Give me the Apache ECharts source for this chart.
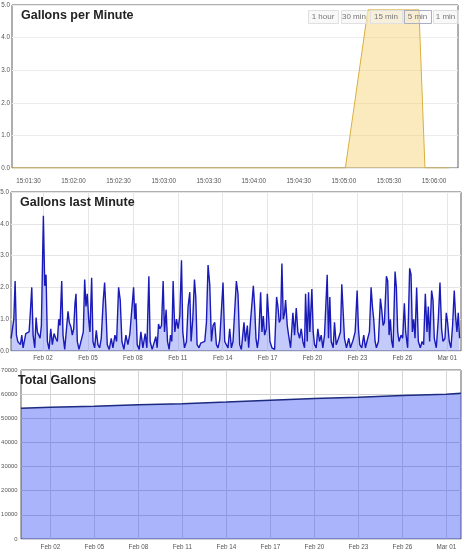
<!DOCTYPE html>
<html><head><meta charset="utf-8">
<script src="https://cdn.jsdelivr.net/npm/echarts@6/dist/echarts.min.js"></script>
<style>html,body{margin:0;padding:0;background:#fff}#c{width:470px;height:555px}</style>
</head><body><div id="c"></div>
<script>
// ---------- Panel 1: Gallons per Minute (1 March 2015, clock times) ----------
const gpmTimes  = ['15:01:19','15:02:00','15:03:00','15:04:00','15:05:01','15:05:16','15:05:50','15:05:54','15:06:10'];
const gpmValues = [0, 0, 0, 0, 0, 4.85, 4.85, 0, 0];
const gpmRange  = ['15:01:19','15:06:16'];
const gpmTickLabels = ['15:01:30','15:02:00','15:02:30','15:03:00','15:03:30','15:04:00','15:04:30','15:05:00','15:05:30','15:06:00'];
const rangeButtons = ['1 hour','30 min','15 min','5 min','1 min'];
const selectedButton = '5 min';

// ---------- Panel 2: Gallons last Minute  ([hours since 2015-01-30 00:00, gallons]) ----------
const lastMinuteReadings = [
[20.8,0.4],[23.5,0.35],[25.1,1.0],[27.2,2.2],[29.3,0.5],[31.5,0.3],[33.6,0.35],[35.7,0.2],[37.9,0.5],[40.0,0.1],
[42.1,0.05],[44.3,0.55],[46.9,0.55],[49.6,0.6],[51.7,1.25],[53.9,2.0],[56.0,0.5],[58.7,0.1],[60.8,1.05],[62.9,0.6],
[65.1,0.5],[67.2,0.4],[69.3,0.8],[72.5,4.25],[74.7,2.05],[76.8,2.4],[78.9,0.3],[81.6,0.05],[84.3,0.7],[86.9,0.2],
[89.6,0.55],[92.3,0.4],[94.9,0.3],[97.1,1.0],[99.2,0.8],[101.9,2.2],[104.0,0.5],[106.7,0.05],[109.3,0.1],[112.0,1.25],
[114.1,0.9],[116.8,0.75],[118.9,0.5],[121.1,0.7],[123.2,1.5],[124.8,1.8],[126.9,0.3],[129.6,0.05],[132.3,0.1],[136.5,0.6],
[138.7,2.25],[140.8,1.4],[142.9,1.8],[145.1,1.0],[147.2,0.6],[149.9,2.3],[152.0,0.3],[154.7,0.1],[157.3,0.65],[160.0,0.2],
[162.7,0.1],[165.3,0.4],[168.5,1.6],[170.7,2.15],[172.8,1.3],[174.9,0.2],[178.1,0.05],[181.3,0.4],[184.0,0.1],[187.2,0.5],
[189.9,0.3],[193.1,2.0],[195.7,1.6],[198.4,0.3],[201.6,0.05],[204.8,0.5],[208.0,0.2],[211.2,0.55],[214.4,0.6],[217.1,2.0],
[219.2,1.0],[220.8,1.5],[222.9,0.2],[226.1,0.05],[228.8,0.6],[232.0,0.1],[235.7,0.55],[238.4,0.1],[241.6,2.35],[243.7,0.3],
[246.9,0.05],[250.1,0.1],[252.8,0.45],[254.9,0.1],[257.1,0.85],[259.2,0.7],[261.9,0.8],[264.5,2.2],[266.7,0.6],[269.3,1.3],
[271.5,0.3],[274.1,0.05],[276.3,0.5],[278.4,0.3],[280.5,2.2],[283.2,0.6],[285.9,1.0],[288.5,0.7],[291.2,1.1],[293.9,2.85],
[296.0,0.6],[298.7,0.1],[301.9,0.3],[304.5,1.4],[307.2,1.85],[309.3,0.3],[312.0,1.0],[314.7,2.25],[316.8,1.7],[318.9,0.2],
[322.1,0.1],[324.8,0.25],[328.0,0.2],[331.2,0.3],[333.9,0.9],[336.5,2.7],[339.2,2.1],[341.9,0.3],[344.5,0.8],[347.2,0.9],
[349.9,0.2],[352.5,0.1],[355.2,0.35],[357.9,0.3],[360.5,2.15],[363.2,0.3],[365.9,0.25],[368.5,0.1],[371.2,0.7],[373.9,0.1],
[376.5,0.3],[379.2,0.3],[381.9,2.2],[384.5,1.8],[387.2,0.2],[389.9,0.05],[394.1,0.9],[396.3,0.3],[399.5,0.8],[401.6,0.1],
[404.8,1.0],[406.9,1.5],[409.1,2.05],[411.2,1.4],[413.3,0.4],[415.5,0.1],[417.6,0.4],[420.8,1.85],[422.9,0.6],[425.1,1.1],
[427.2,0.5],[429.9,0.7],[431.5,1.8],[433.6,1.1],[435.7,0.3],[438.9,0.1],[443.2,0.05],[446.4,1.7],[448.5,1.4],[450.7,0.9],
[452.8,1.0],[454.9,2.75],[457.1,1.0],[459.2,1.2],[460.8,1.6],[463.5,0.8],[465.6,0.5],[468.8,0.1],[472.5,1.2],[475.2,0.5],
[477.9,1.35],[480.5,0.6],[483.2,0.4],[485.9,0.7],[488.5,0.3],[491.2,0.1],[492.8,1.8],[495.5,0.3],[497.6,1.85],[499.7,0.6],
[502.9,1.95],[505.1,0.6],[507.2,0.2],[509.9,0.1],[512.5,0.7],[515.2,0.3],[517.9,0.5],[520.5,0.1],[523.2,0.5],[527.5,2.4],
[529.6,0.4],[531.7,1.7],[533.9,0.3],[537.1,0.1],[539.2,0.9],[541.9,0.2],[545.6,0.4],[548.8,0.6],[550.9,2.1],[553.1,2.15],
[555.2,0.4],[558.4,0.1],[562.1,0.4],[564.8,0.1],[569.1,0.35],[572.3,0.6],[575.5,1.9],[577.6,0.7],[579.7,0.2],[582.9,0.1],
[586.1,0.5],[588.8,0.1],[592.5,0.4],[595.2,0.6],[597.9,2.0],[600.0,1.4],[602.1,1.0],[604.3,0.3],[606.4,0.1],[609.6,0.3],
[612.8,1.65],[614.9,1.3],[617.1,0.8],[619.2,0.9],[622.4,2.35],[624.5,2.2],[626.7,0.5],[628.8,1.0],[630.9,0.3],[633.1,0.1],
[636.3,2.5],[638.4,2.0],[640.5,0.6],[642.7,0.3],[645.9,0.5],[648.5,0.4],[651.2,1.5],[653.3,0.6],[656.5,0.1],[659.7,2.6],
[661.9,2.4],[664.0,0.6],[666.1,1.0],[668.3,0.4],[670.9,2.0],[673.6,0.3],[676.8,0.1],[679.5,0.3],[682.1,0.2],[684.8,1.8],
[687.5,0.6],[689.6,1.4],[691.7,0.3],[694.9,1.9],[697.1,1.6],[699.2,0.4],[702.4,0.1],[705.6,1.0],[708.3,2.15],[710.9,0.7],
[713.1,0.3],[716.3,0.4],[718.4,1.2],[720.5,0.9],[723.2,0.3],[725.9,0.1],[728.5,0.8],[731.2,1.9],[733.3,1.1],[735.5,0.6],
[737.6,1.2],[739.7,0.4]
];
const lastMinuteRangeHours = [20.6, 742];
const dateTickLabels = ['2015-02-02','2015-02-05','2015-02-08','2015-02-11','2015-02-14','2015-02-17','2015-02-20','2015-02-23','2015-02-26','2015-03-01'];

// ---------- Panel 3: Total Gallons ----------
const totalDates  = ['2015-01-31','2015-02-02','2015-02-05','2015-02-08','2015-02-11','2015-02-14','2015-02-17','2015-02-20','2015-02-23','2015-02-26','2015-03-01','2015-03-02'];
const totalValues = [54170, 54580, 55000, 55560, 55970, 56700, 57500, 58190, 58750, 59440, 60000, 60420];
const totalRange  = ['2015-01-31','2015-03-02'];

// ---------- helpers ----------
const FONT = '"Liberation Sans", Arial, Helvetica, sans-serif';
const MON = ['Jan','Feb','Mar','Apr','May','Jun','Jul','Aug','Sep','Oct','Nov','Dec'];
const pad = n => String(n).padStart(2,'0');
const day = s => { const [y,m,d] = s.split('-').map(Number); return new Date(y,m-1,d).getTime(); };
const clock = s => { const [h,m,x] = s.split(':').map(Number); return new Date(2015,2,1,h,m,x).getTime(); };
const base2 = new Date(2015,0,30).getTime();
const HOUR = 3600e3;
const fmtDate = v => { const x = new Date(v); return MON[x.getMonth()] + ' ' + pad(x.getDate()); };
const fmtClock = v => { const x = new Date(v); return pad(x.getHours())+':'+pad(x.getMinutes())+':'+pad(x.getSeconds()); };

const lbl = (extra) => Object.assign({fontSize:6.3, color:'#555', fontFamily:FONT}, extra);
const titleStyle = {fontSize:12.5, fontWeight:'bold', color:'#222', fontFamily:FONT};

const dateTicks = dateTickLabels.map(day);
const clockTicks = gpmTickLabels.map(clock);

// range buttons (UI decoration)
const btnX = [308, 341, 370, 404, 433], btnW = [30, 26, 32, 27, 25];
const buttons = [];
rangeButtons.forEach((b, i) => {
  const sel = b === selectedButton;
  buttons.push({type:'rect', left:btnX[i], top:10, shape:{width:btnW[i], height:13},
    style:{fill: sel ? 'rgba(240,240,245,0.35)' : 'rgba(242,242,242,0.55)', stroke: sel ? '#aab0c0' : '#e0e0e0', lineWidth:1}, z:100});
  buttons.push({type:'text', x:btnX[i] + btnW[i]/2, y:16.5, style:{text:b, fill:'#777', font:'8px ' + FONT, align:'center', verticalAlign:'middle'}, z:101});
});

const gridCommon = {show:true, borderColor:'#5e5e5e', borderWidth:1, containLabel:false, outerBoundsMode:'none'};

const chart = echarts.init(document.getElementById('c'));
chart.setOption({
  animation:false,
  backgroundColor:'#fff',
  title:[
    {text:'Gallons per Minute', left:21, top:9, padding:0, textStyle:titleStyle, z:50},
    {text:'Gallons last Minute', left:20, top:196, padding:0, textStyle:titleStyle, z:50},
    {text:'Total Gallons', left:18, top:374, padding:0, textStyle:titleStyle, z:50}
  ],
  graphic: buttons,
  grid:[
    Object.assign({left:12, top:5, width:446, height:163}, gridCommon),
    Object.assign({left:11, top:192, width:450, height:159}, gridCommon),
    Object.assign({left:21, top:370, width:440, height:169}, gridCommon)
  ],
  xAxis:[
    {type:'value', gridIndex:0, min:clock(gpmRange[0]), max:clock(gpmRange[1]),
     axisLine:{show:false}, axisTick:{show:false, customValues:clockTicks}, splitLine:{show:false},
     axisLabel:lbl({customValues:clockTicks, formatter:fmtClock, margin:10})},
    {type:'value', gridIndex:1, min:base2 + lastMinuteRangeHours[0]*HOUR, max:base2 + lastMinuteRangeHours[1]*HOUR,
     axisLine:{show:false}, axisTick:{show:false, customValues:dateTicks}, splitLine:{show:true, lineStyle:{color:'#e6e6e6'}},
     axisLabel:lbl({customValues:dateTicks, formatter:fmtDate, margin:4})},
    {type:'value', gridIndex:2, min:day(totalRange[0]), max:day(totalRange[1]),
     axisLine:{show:false}, axisTick:{show:false, customValues:dateTicks}, splitLine:{show:true, lineStyle:{color:'#d6d6d6'}},
     axisLabel:lbl({customValues:dateTicks, formatter:fmtDate, margin:5})}
  ],
  yAxis:[
    {type:'value', gridIndex:0, min:0, max:5, interval:1, axisLine:{show:false}, axisTick:{show:false},
     splitLine:{lineStyle:{color:'#ececec'}}, axisLabel:lbl({formatter:v=>v.toFixed(1), margin:2})},
    {type:'value', gridIndex:1, min:0, max:5, interval:1, axisLine:{show:false}, axisTick:{show:false},
     splitLine:{lineStyle:{color:'#e6e6e6'}}, axisLabel:lbl({formatter:v=>v.toFixed(1), margin:2})},
    {type:'value', gridIndex:2, min:0, max:70000, interval:10000, axisLine:{show:false}, axisTick:{show:false},
     splitLine:{lineStyle:{color:'#d0d0d0'}}, axisLabel:lbl({formatter:v=>String(v), margin:3.5, fontSize:5.9})}
  ],
  series:[
    {type:'line', xAxisIndex:0, yAxisIndex:0, showSymbol:false, symbol:'none',
     data:gpmTimes.map((s,i)=>[clock(s), gpmValues[i]]),
     lineStyle:{color:'#d8b040', width:1}, areaStyle:{color:'rgba(242,205,100,0.6)'}},
    {type:'line', xAxisIndex:1, yAxisIndex:1, showSymbol:false, symbol:'none',
     data:lastMinuteReadings.map(r=>[base2 + r[0]*HOUR, r[1]]),
     lineStyle:{color:'#1a1ab8', width:1.4}, areaStyle:{color:'rgba(70,90,240,0.45)'}},
    {type:'line', xAxisIndex:2, yAxisIndex:2, showSymbol:false, symbol:'none',
     data:totalDates.map((s,i)=>[day(s), totalValues[i]]),
     lineStyle:{color:'#1c2a80', width:1.5}, areaStyle:{color:'rgba(30,60,245,0.55)'}}
  ]
});
</script>
</body></html>
